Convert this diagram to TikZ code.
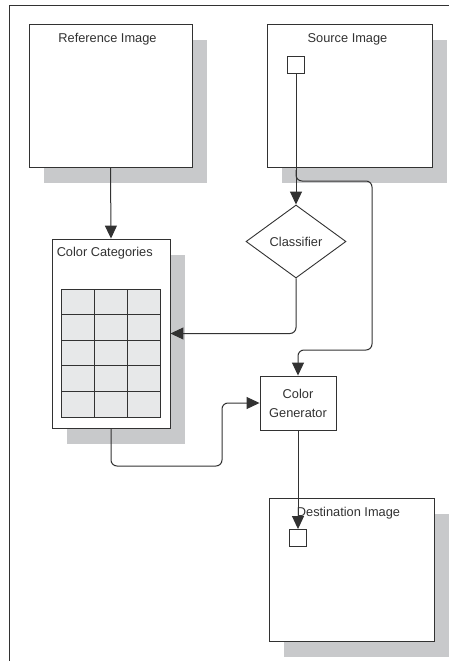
\documentclass[tikz,border=0pt]{standalone}
\usepackage{fontspec}
\setmainfont{Liberation Sans}
\usetikzlibrary{shapes.geometric, arrows.meta, positioning, shadows}
\definecolor{LineGray}{RGB}{50,50,50}
\definecolor{ShadowGray}{RGB}{200,201,203}
\definecolor{CellGray}{RGB}{231,232,233}

\begin{document}
\begin{tikzpicture}[
  x=1pt, y=-1pt,
  font=\fontsize{12.8}{19}\selectfont,
  every node/.style={text=LineGray},
  imgbox/.style={rectangle, draw=LineGray, line width=0.9pt, fill=white,
                 inner sep=0pt,
                 drop shadow={shadow xshift=15pt, shadow yshift=-16pt,
                              fill=ShadowGray, opacity=1}},
  pixbox/.style={rectangle, draw=LineGray, line width=0.9pt, fill=white,
                 minimum width=17.6pt, minimum height=17pt, inner sep=0pt},
  cell/.style={rectangle, draw=LineGray, line width=1pt, fill=CellGray,
               minimum width=33.3pt, minimum height=25.6pt, inner sep=0pt},
  title/.style={inner sep=0pt},
  procbox/.style={rectangle, draw=LineGray, line width=0.9pt, fill=white,
                  minimum width=76pt, minimum height=54pt, align=center},
  decide/.style={diamond, draw=LineGray, line width=0.9pt, fill=white,
                 minimum width=100pt, minimum height=73pt, inner sep=0pt},
  arrow/.style={-{Triangle[length=13pt, width=12pt]}, LineGray,
                line width=1pt, rounded corners=6pt},
]
\useasboundingbox (0,0) rectangle (448,661);

% Frame
\draw[LineGray, line width=0.9pt] (470,5) -- (9,5) -- (9,680);

% Images
\node[imgbox, minimum width=163pt, minimum height=143pt] (refimg) at (110.5,95.5) {};
\node[imgbox, minimum width=165pt, minimum height=143pt] (srcimg) at (349.5,95.5) {};
\node[imgbox, minimum width=118pt, minimum height=189pt] (catbox) at (111,333.5) {};
\node[imgbox, minimum width=165pt, minimum height=143pt] (dstimg) at (351.5,569.5) {};

\node[title, below=9.4pt of refimg.north, xshift=-3pt] {Reference Image};
\node[title, below=9.4pt of srcimg.north, xshift=-2pt] {Source Image};
\node[title, below right=8.4pt and 5pt of catbox.north west] {Color Categories};
\node[title, below=9.4pt of dstimg.north, xshift=-3pt] {Destination Image};

% Pixels
\node[pixbox] (srcpix) at (296,65) {};
\node[pixbox] (dstpix) at (298,538) {};

% Category table
\foreach \r in {0,...,4}
  \foreach \c in {0,...,2}
    \node[cell] (cell\r\c) at ({77.67+33.33*\c}, {301.8+25.6*\r}) {};

% Process steps
\node[decide] (classify) at (296,241.5) {Classifier};
\node[procbox] (colorgen) at (298,403) {Color\\Generator};

% Bends
\coordinate (split) at (296,170);
\coordinate (bendA) at (372,181);
\coordinate (bendB) at (372,350);
\coordinate (jog) at (222,466);

% Arrows
\draw[arrow] (srcpix) -- (classify);
\draw[arrow] (refimg.south) -- (catbox.north);
\draw[arrow] (classify.south) |- (catbox.east);
\draw[arrow] (split) |- (bendA) -- (bendB) -| (colorgen.north);
\draw[arrow] (catbox.south) |- (jog) |- (colorgen.west);
\draw[arrow] (colorgen.south) -- (dstpix.north);

\end{tikzpicture}
\end{document}
